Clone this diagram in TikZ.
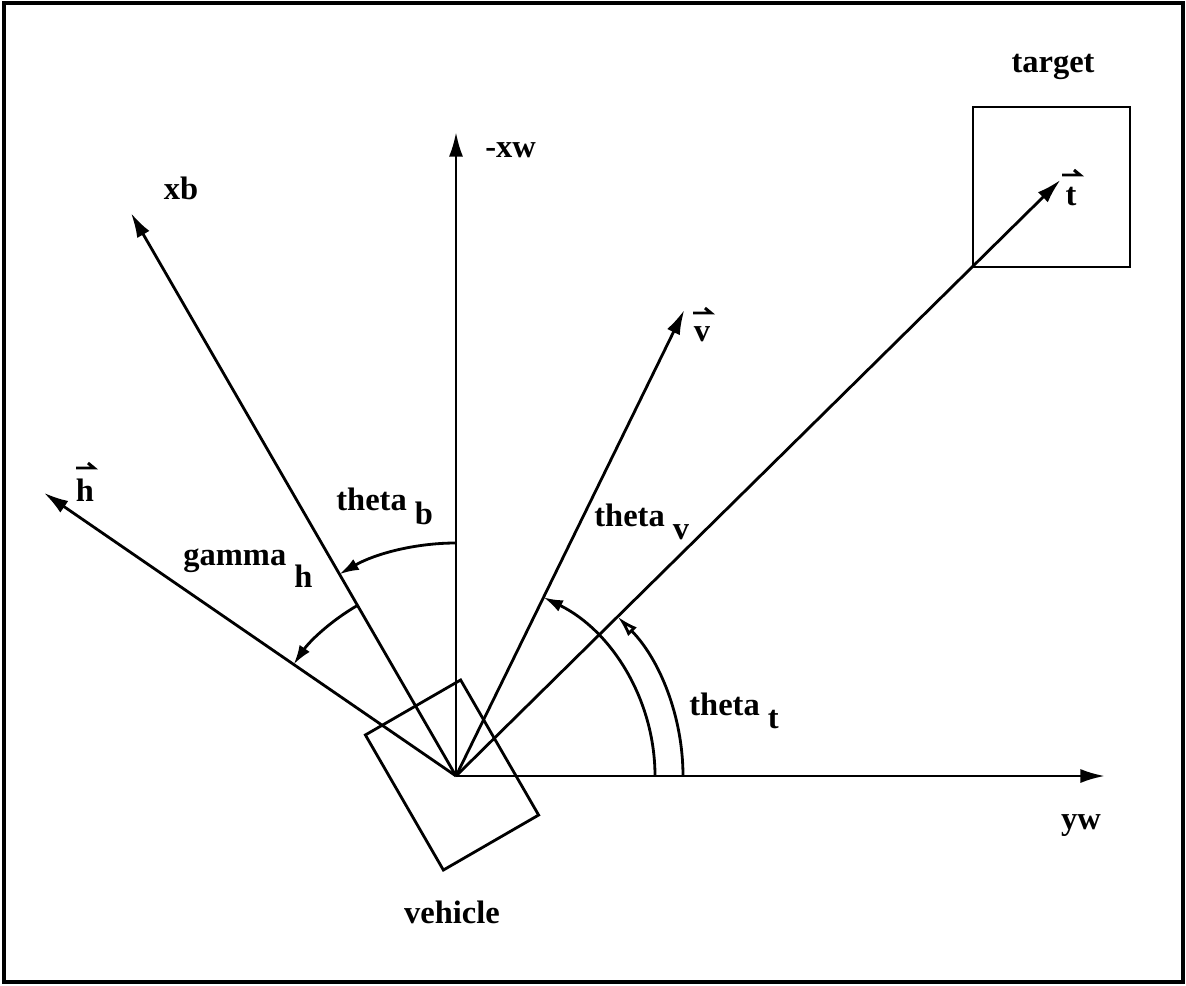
\documentclass[tikz,border=0pt]{standalone}
\usepackage{fontspec}
\setmainfont{Liberation Serif}
\usetikzlibrary{arrows.meta,calc}
\begin{document}
\begin{tikzpicture}[x=0.02cm,y=0.02cm, line width=1.6pt,
  ax/.style={-{Latex[length=14pt,width=8pt]}},
  arcarrow/.style={-{Latex[length=11pt,width=7pt]}},
  openarrow/.style={-{Latex[open,length=12pt,width=7pt]}},
  box/.style={draw, line width=1.6pt, inner sep=0pt},
  harp/.style={line width=1.7pt, line join=miter},
  lbl/.style={font=\bfseries\fontsize{18.5}{22}\selectfont, inner sep=0pt}]
\useasboundingbox (0,0) rectangle (1186,985);
\draw[line width=2.5pt] (4,3) rectangle (1183,982);

\coordinate (O) at (456,209);
\coordinate (yw) at (1105,209);
\coordinate (mxw) at (456,853);
\coordinate (xbt) at ($(O)+(120:650)$);
\coordinate (ht) at ($(O)+(145.5:500)$);
\coordinate (vt) at ($(O)+(63.9:519)$);
\coordinate (tt) at ($(O)+(44.6:849)$);

% vehicle and target
\node[box, minimum width=2.2cm, minimum height=3.12cm, rotate=30] (veh) at (452,210) {};
\node[box, minimum width=3.14cm, minimum height=3.2cm] (target) at (1051.5,798) {};

% axes and vectors
\draw[ax] (O) -- (yw);
\draw[ax] (O) -- (mxw);
\draw[ax] (O) -- (xbt);
\draw[ax] (O) -- (ht);
\draw[ax] (O) -- (vt);
\draw[ax] (O) -- (tt);

% angle arcs
\draw[arcarrow] ($(O)+(90:233)$) arc[start angle=90, end angle=120, radius=4.66cm];
\draw[arcarrow] ($(O)+(120:197)$) arc[start angle=120, end angle=145.5, radius=3.94cm];
\draw[arcarrow] ($(O)+(0:199)$) arc[start angle=0, end angle=63.9, radius=3.98cm];
\draw[openarrow] ($(O)+(0:227)$) arc[start angle=0, end angle=44.6, radius=4.54cm];

% labels
\node[lbl, anchor=west] (lmxw) at (484,835) {-xw};
\node[lbl] (lxb) at (181,797) {xb};
\node[lbl] (lh) at (85,495) {h};
\node[lbl] (lv) at (702,651) {v};
\node[lbl] (lt) at (1071,788) {t};
\draw[harp] ($(lh)+(-9,22)$) -- ($(lh)+(9,22)$) -- ++(-6,5);
\draw[harp] ($(lv)+(-9,21)$) -- ($(lv)+(9,21)$) -- ++(-6,5);
\draw[harp] ($(lt)+(-9,22)$) -- ($(lt)+(9,22)$) -- ++(-6,5);
\node[lbl] (ltarget) at (1053,918) {target};
\node[lbl] (lyw) at (1081,159) {yw};
\node[lbl] (lveh) at (452,73) {vehicle};
\node[lbl, anchor=base west] (lthb) at (335,475) {theta \raisebox{-8.5pt}{b}};
\node[lbl, anchor=base west] (lgam) at (182,420) {gamma \raisebox{-13pt}{h}};
\node[lbl, anchor=base west] (lthv) at (593,459) {theta \raisebox{-7.5pt}{v}};
\node[lbl, anchor=base west] (ltht) at (688,270) {theta \raisebox{-7.5pt}{t}};
\end{tikzpicture}
\end{document}
